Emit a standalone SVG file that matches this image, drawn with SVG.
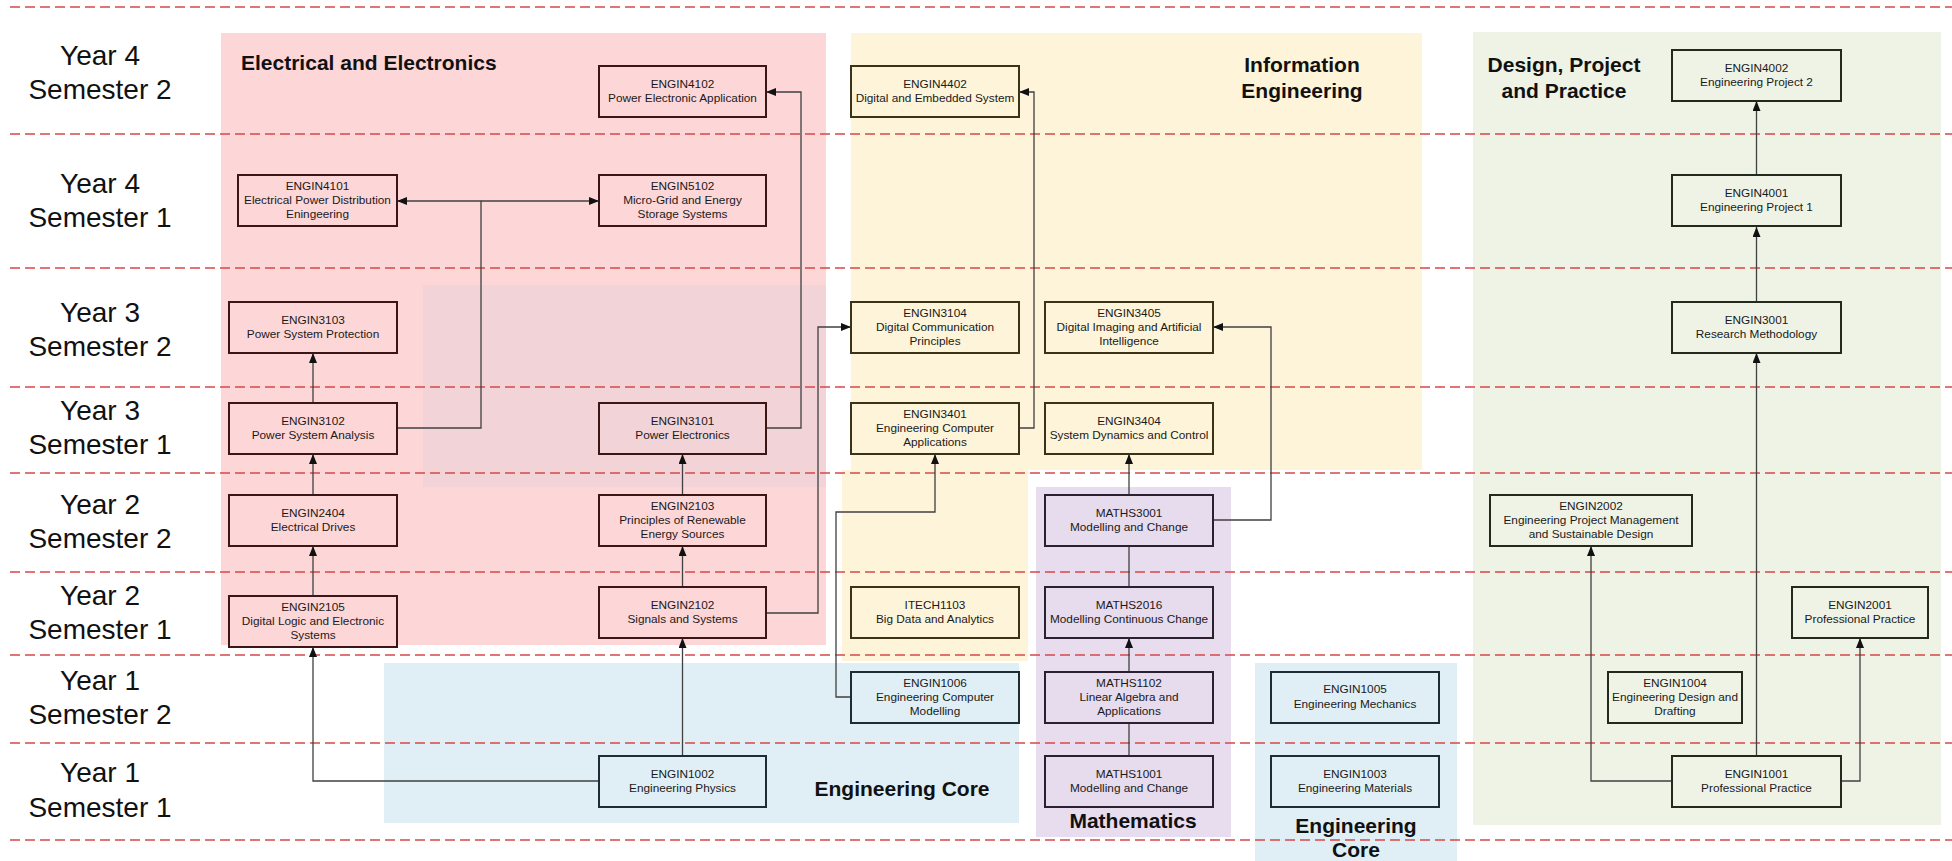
<svg xmlns="http://www.w3.org/2000/svg" width="1952" height="861" viewBox="0 0 1952 861">
<style>
  .row{font-family:"Liberation Sans",Arial,sans-serif;font-size:28px;fill:#111;text-anchor:middle}
  .title{font-family:"Liberation Sans",Arial,sans-serif;font-size:21px;font-weight:bold;fill:#111}
  .dash{stroke:#d64848;stroke-width:1.4;stroke-dasharray:10 5;fill:none}
  .nt{font-family:"Liberation Sans",Arial,sans-serif;font-size:11.8px;fill:#1a1a1a;text-anchor:middle}
  .box{stroke-width:2}
  .pk{fill:#fdd6d8;stroke:#3a1616}
  .pg{fill:#f2d4d8;stroke:#3a1616}
  .yl{fill:#fdf4d9;stroke:#3a3318}
  .bl{fill:#e0eff5;stroke:#1e2d33}
  .pu{fill:#e7dbee;stroke:#2a2030}
  .gr{fill:#eff3e6;stroke:#222a1e}
  .cn{fill:none;stroke:#404040;stroke-width:1.3}
</style>
<defs>
  <marker id="ah" markerUnits="userSpaceOnUse" markerWidth="10" markerHeight="8" refX="10" refY="4" orient="auto">
    <path d="M0,0 L10,4 L0,8 z" fill="#111"/>
  </marker>
</defs>
<rect width="1952" height="861" fill="#fff"/>

<g id="regions">
  <rect x="221" y="33" width="605" height="612" fill="#fdd6d8"/>
  <rect x="423" y="285" width="403" height="202" fill="#f2d4d8"/>
  <rect x="851" y="33" width="571" height="437" fill="#fdf4d9"/>
  <rect x="842" y="470" width="186" height="191" fill="#fdf4d9"/>
  <rect x="1473" y="32" width="468" height="793" fill="#eff3e6"/>
  <rect x="384" y="663" width="635" height="160" fill="#e0eff5"/>
  <rect x="1036" y="487" width="195" height="350" fill="#e8ddef"/>
  <rect x="1255" y="663" width="202" height="198" fill="#e0eff5"/>
</g>

<g id="rows">
  <line class="dash" x1="10" y1="7" x2="1952" y2="7"/>
  <line class="dash" x1="10" y1="134" x2="1952" y2="134"/>
  <line class="dash" x1="10" y1="268" x2="1952" y2="268"/>
  <line class="dash" x1="10" y1="387" x2="1952" y2="387"/>
  <line class="dash" x1="10" y1="473" x2="1952" y2="473"/>
  <line class="dash" x1="10" y1="572" x2="1952" y2="572"/>
  <line class="dash" x1="10" y1="655" x2="1952" y2="655"/>
  <line class="dash" x1="10" y1="743" x2="1952" y2="743"/>
  <line class="dash" x1="10" y1="840" x2="1952" y2="840"/>
  <text class="row" x="100" y="65">Year 4</text><text class="row" x="100" y="99">Semester 2</text>
  <text class="row" x="100" y="193">Year 4</text><text class="row" x="100" y="227">Semester 1</text>
  <text class="row" x="100" y="322">Year 3</text><text class="row" x="100" y="356">Semester 2</text>
  <text class="row" x="100" y="420">Year 3</text><text class="row" x="100" y="454">Semester 1</text>
  <text class="row" x="100" y="514">Year 2</text><text class="row" x="100" y="548">Semester 2</text>
  <text class="row" x="100" y="605">Year 2</text><text class="row" x="100" y="639">Semester 1</text>
  <text class="row" x="100" y="690">Year 1</text><text class="row" x="100" y="724">Semester 2</text>
  <text class="row" x="100" y="782">Year 1</text><text class="row" x="100" y="817">Semester 1</text>
</g>

<g id="titles">
  <text class="title" x="241" y="70">Electrical and Electronics</text>
  <text class="title" x="1302" y="72" text-anchor="middle">Information</text>
  <text class="title" x="1302" y="98" text-anchor="middle">Engineering</text>
  <text class="title" x="1564" y="72" text-anchor="middle">Design, Project</text>
  <text class="title" x="1564" y="98" text-anchor="middle">and Practice</text>
  <text class="title" x="902" y="796" text-anchor="middle">Engineering Core</text>
  <text class="title" x="1133" y="828" text-anchor="middle">Mathematics</text>
  <text class="title" x="1356" y="833" text-anchor="middle">Engineering</text>
  <text class="title" x="1356" y="857" text-anchor="middle">Core</text>
</g>

<g id="connectors">
  <path class="cn" d="M397,428 H481 V201 H397" marker-end="url(#ah)"/>
  <path class="cn" d="M481,201 H599" marker-end="url(#ah)"/>
  <path class="cn" d="M313,403 V353" marker-end="url(#ah)"/>
  <path class="cn" d="M313,495 V454" marker-end="url(#ah)"/>
  <path class="cn" d="M313,596 V546" marker-end="url(#ah)"/>
  <path class="cn" d="M599,781 H313 V647" marker-end="url(#ah)"/>
  <path class="cn" d="M682.5,756 V638" marker-end="url(#ah)"/>
  <path class="cn" d="M682.5,587 V546" marker-end="url(#ah)"/>
  <path class="cn" d="M682.5,495 V454" marker-end="url(#ah)"/>
  <path class="cn" d="M766,428 H801 V92 H766" marker-end="url(#ah)"/>
  <path class="cn" d="M766,613 H818 V327 H851" marker-end="url(#ah)"/>
  <path class="cn" d="M851,697 H836 V512 H935 V454" marker-end="url(#ah)"/>
  <path class="cn" d="M1019,428 H1034 V92 H1019" marker-end="url(#ah)"/>
  <path class="cn" d="M1129,495 V454" marker-end="url(#ah)"/>
  <path class="cn" d="M1213,520 H1271 V327 H1213" marker-end="url(#ah)"/>
  <path class="cn" d="M1129,587 V546"/>
  <path class="cn" d="M1129,672 V638" marker-end="url(#ah)"/>
  <path class="cn" d="M1129,756 V723"/>
  <path class="cn" d="M1672,781 H1591 V546" marker-end="url(#ah)"/>
  <path class="cn" d="M1756.5,756 V353" marker-end="url(#ah)"/>
  <path class="cn" d="M1841,781 H1860 V638" marker-end="url(#ah)"/>
  <path class="cn" d="M1756.5,302 V227" marker-end="url(#ah)"/>
  <path class="cn" d="M1756.5,175 V101" marker-end="url(#ah)"/>
</g>

<g id="ENGIN4101"><rect class="box pk" x="238" y="175" width="159" height="51"/><text class="nt" x="317.5" y="189.5">ENGIN4101</text><text class="nt" x="317.5" y="203.5">Electrical Power Distribution</text><text class="nt" x="317.5" y="217.5">Eningeering</text></g>
<g id="ENGIN4102"><rect class="box pk" x="599" y="66" width="167" height="51"/><text class="nt" x="682.5" y="88">ENGIN4102</text><text class="nt" x="682.5" y="102">Power Electronic Application</text></g>
<g id="ENGIN5102"><rect class="box pk" x="599" y="175" width="167" height="51"/><text class="nt" x="682.5" y="189.5">ENGIN5102</text><text class="nt" x="682.5" y="203.5">Micro-Grid and Energy</text><text class="nt" x="682.5" y="217.5">Storage Systems</text></g>
<g id="ENGIN3103"><rect class="box pk" x="229" y="302" width="168" height="51"/><text class="nt" x="313" y="324">ENGIN3103</text><text class="nt" x="313" y="338">Power System Protection</text></g>
<g id="ENGIN3102"><rect class="box pk" x="229" y="403" width="168" height="51"/><text class="nt" x="313" y="425">ENGIN3102</text><text class="nt" x="313" y="439">Power System Analysis</text></g>
<g id="ENGIN2404"><rect class="box pk" x="229" y="495" width="168" height="51"/><text class="nt" x="313" y="517">ENGIN2404</text><text class="nt" x="313" y="531">Electrical Drives</text></g>
<g id="ENGIN2105"><rect class="box pk" x="229" y="596" width="168" height="51"/><text class="nt" x="313" y="610.5">ENGIN2105</text><text class="nt" x="313" y="624.5">Digital Logic and Electronic</text><text class="nt" x="313" y="638.5">Systems</text></g>
<g id="ENGIN3101"><rect class="box pg" x="599" y="403" width="167" height="51"/><text class="nt" x="682.5" y="425">ENGIN3101</text><text class="nt" x="682.5" y="439">Power Electronics</text></g>
<g id="ENGIN2103"><rect class="box pk" x="599" y="495" width="167" height="51"/><text class="nt" x="682.5" y="509.5">ENGIN2103</text><text class="nt" x="682.5" y="523.5">Principles of Renewable</text><text class="nt" x="682.5" y="537.5">Energy Sources</text></g>
<g id="ENGIN2102"><rect class="box pk" x="599" y="587" width="167" height="51"/><text class="nt" x="682.5" y="609">ENGIN2102</text><text class="nt" x="682.5" y="623">Signals and Systems</text></g>

<g id="ENGIN4402"><rect class="box yl" x="851" y="66" width="168" height="51"/><text class="nt" x="935" y="88">ENGIN4402</text><text class="nt" x="935" y="102">Digital and Embedded System</text></g>
<g id="ENGIN3104"><rect class="box yl" x="851" y="302" width="168" height="51"/><text class="nt" x="935" y="316.5">ENGIN3104</text><text class="nt" x="935" y="330.5">Digital Communication</text><text class="nt" x="935" y="344.5">Principles</text></g>
<g id="ENGIN3401"><rect class="box yl" x="851" y="403" width="168" height="51"/><text class="nt" x="935" y="417.5">ENGIN3401</text><text class="nt" x="935" y="431.5">Engineering Computer</text><text class="nt" x="935" y="445.5">Applications</text></g>
<g id="ITECH1103"><rect class="box yl" x="851" y="587" width="168" height="51"/><text class="nt" x="935" y="609">ITECH1103</text><text class="nt" x="935" y="623">Big Data and Analytics</text></g>
<g id="ENGIN3405"><rect class="box yl" x="1045" y="302" width="168" height="51"/><text class="nt" x="1129" y="316.5">ENGIN3405</text><text class="nt" x="1129" y="330.5">Digital Imaging and Artificial</text><text class="nt" x="1129" y="344.5">Intelligence</text></g>
<g id="ENGIN3404"><rect class="box yl" x="1045" y="403" width="168" height="51"/><text class="nt" x="1129" y="425">ENGIN3404</text><text class="nt" x="1129" y="439">System Dynamics and Control</text></g>

<g id="ENGIN1006"><rect class="box bl" x="851" y="672" width="168" height="51"/><text class="nt" x="935" y="686.5">ENGIN1006</text><text class="nt" x="935" y="700.5">Engineering Computer</text><text class="nt" x="935" y="714.5">Modelling</text></g>
<g id="ENGIN1002"><rect class="box bl" x="599" y="756" width="167" height="51"/><text class="nt" x="682.5" y="778">ENGIN1002</text><text class="nt" x="682.5" y="792">Engineering Physics</text></g>
<g id="ENGIN1005"><rect class="box bl" x="1271" y="672" width="168" height="51"/><text class="nt" x="1355" y="693">ENGIN1005</text><text class="nt" x="1355" y="707.5">Engineering Mechanics</text></g>
<g id="ENGIN1003"><rect class="box bl" x="1271" y="756" width="168" height="51"/><text class="nt" x="1355" y="778">ENGIN1003</text><text class="nt" x="1355" y="792">Engineering Materials</text></g>

<g id="MATHS3001"><rect class="box pu" x="1045" y="495" width="168" height="51"/><text class="nt" x="1129" y="517">MATHS3001</text><text class="nt" x="1129" y="531">Modelling and Change</text></g>
<g id="MATHS2016"><rect class="box pu" x="1045" y="587" width="168" height="51"/><text class="nt" x="1129" y="609">MATHS2016</text><text class="nt" x="1129" y="623">Modelling Continuous Change</text></g>
<g id="MATHS1102"><rect class="box pu" x="1045" y="672" width="168" height="51"/><text class="nt" x="1129" y="686.5">MATHS1102</text><text class="nt" x="1129" y="700.5">Linear Algebra and</text><text class="nt" x="1129" y="714.5">Applications</text></g>
<g id="MATHS1001"><rect class="box pu" x="1045" y="756" width="168" height="51"/><text class="nt" x="1129" y="778">MATHS1001</text><text class="nt" x="1129" y="792">Modelling and Change</text></g>

<g id="ENGIN4002"><rect class="box gr" x="1672" y="50" width="169" height="51"/><text class="nt" x="1756.5" y="72">ENGIN4002</text><text class="nt" x="1756.5" y="86">Engineering Project 2</text></g>
<g id="ENGIN4001"><rect class="box gr" x="1672" y="175" width="169" height="51"/><text class="nt" x="1756.5" y="197">ENGIN4001</text><text class="nt" x="1756.5" y="211">Engineering Project 1</text></g>
<g id="ENGIN3001"><rect class="box gr" x="1672" y="302" width="169" height="51"/><text class="nt" x="1756.5" y="324">ENGIN3001</text><text class="nt" x="1756.5" y="338">Research Methodology</text></g>
<g id="ENGIN2002"><rect class="box gr" x="1490" y="495" width="202" height="51"/><text class="nt" x="1591" y="509.5">ENGIN2002</text><text class="nt" x="1591" y="523.5">Engineering Project Management</text><text class="nt" x="1591" y="537.5">and Sustainable Design</text></g>
<g id="ENGIN2001"><rect class="box gr" x="1792" y="587" width="136" height="51"/><text class="nt" x="1860" y="609">ENGIN2001</text><text class="nt" x="1860" y="623">Professional Practice</text></g>
<g id="ENGIN1004"><rect class="box gr" x="1608" y="672" width="134" height="51"/><text class="nt" x="1675" y="686.5">ENGIN1004</text><text class="nt" x="1675" y="700.5">Engineering Design and</text><text class="nt" x="1675" y="714.5">Drafting</text></g>
<g id="ENGIN1001"><rect class="box gr" x="1672" y="756" width="169" height="51"/><text class="nt" x="1756.5" y="778">ENGIN1001</text><text class="nt" x="1756.5" y="792">Professional Practice</text></g>
</svg>
